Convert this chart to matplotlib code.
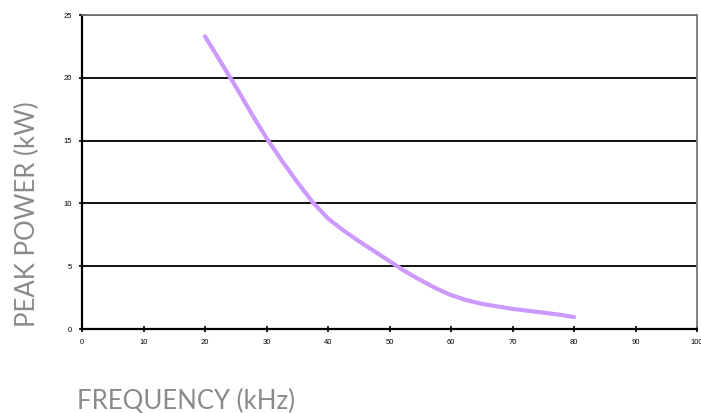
import matplotlib
matplotlib.use('Agg')
import matplotlib.pyplot as plt
import numpy as np

# values
frequency = [20, 22.5, 25, 27.5, 30, 32.5, 35, 37.5, 40, 42.5, 45, 47.5, 50,
             52.5, 55, 57.5, 60, 62.5, 65, 67.5, 70, 72.5, 75, 77.5, 80]
peak_power = [23.3, 21.3, 19.3, 17.2, 15.2, 13.4, 11.7, 10.1, 8.8, 7.85, 7.0, 6.2, 5.4,
              4.6, 3.9, 3.25, 2.7, 2.3, 2.0, 1.8, 1.6, 1.45, 1.3, 1.15, 0.95]

x_ticks = np.arange(0, 101, 10)
y_ticks = np.arange(0, 26, 5)

fig = plt.figure(figsize=(7.01, 4.13), dpi=100)
ax = fig.add_axes([82 / 701, 84 / 413, 615 / 701, 314 / 413])

ax.plot(frequency, peak_power, color='#cc99ff', linewidth=3, solid_capstyle='round',
        solid_joinstyle='round')

ax.set_xlim(0, 100)
ax.set_ylim(0, 25)
ax.set_xticks(x_ticks)
ax.set_yticks(y_ticks)
ax.tick_params(labelsize=5.5, direction='inout', length=4, width=1.2, pad=5)
for lab in ax.get_xticklabels() + ax.get_yticklabels():
    lab.set_family('Liberation Sans')

ax.grid(axis='y', color='black', linewidth=1.3)
ax.set_axisbelow(True)

ax.spines['left'].set_linewidth(1.6)
ax.spines['bottom'].set_linewidth(1.6)
ax.spines['top'].set_color('#777777')
ax.spines['right'].set_color('#777777')
ax.spines['top'].set_linewidth(1.3)
ax.spines['right'].set_linewidth(1.3)

fig.text(77 / 701, 1 - 409 / 413, 'FREQUENCY (kHz)', fontsize=18.5, color='#8a8a8a',
         family='Lato', va='baseline', ha='left')
fig.text(27 / 701, 1 - 214 / 413, 'PEAK POWER (kW)', fontsize=18.5, color='#8a8a8a',
         family='Lato', va='center', ha='center', rotation=90)

fig.savefig('out.png', dpi=100)
